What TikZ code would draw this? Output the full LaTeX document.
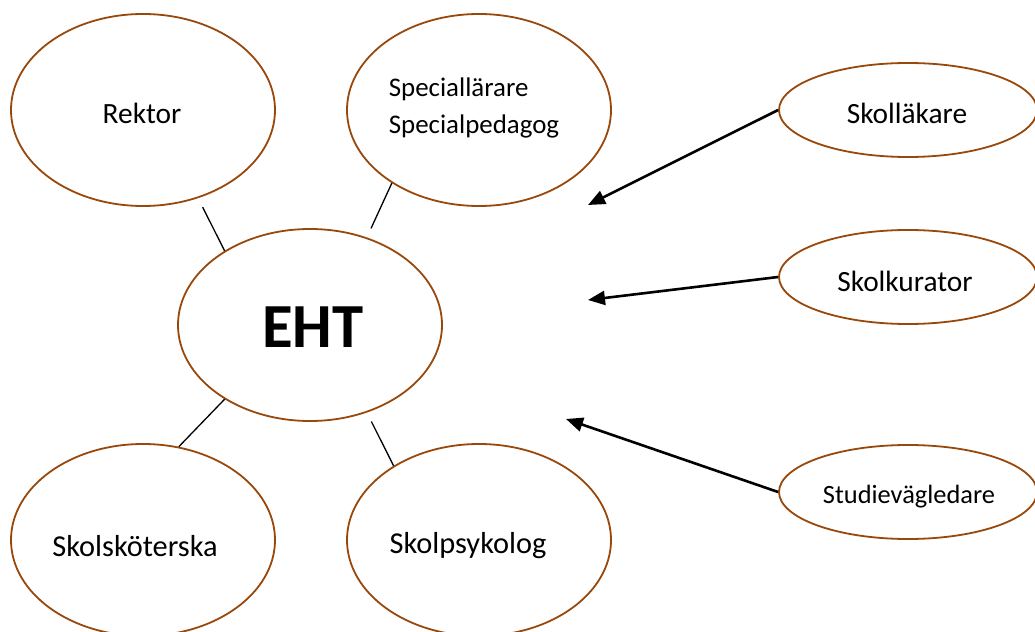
\documentclass[tikz,border=0pt]{standalone}
\usepackage{fontspec}
\setmainfont{Carlito}
\usetikzlibrary{shapes.geometric,arrows.meta}
\definecolor{brownline}{RGB}{152,72,10}
\begin{document}
\begin{tikzpicture}[x=1bp,y=-1bp,
  oval/.style={ellipse,draw=brownline,line width=1.8bp,inner sep=0pt,
     minimum width=264bp,minimum height=192bp},
  smalloval/.style={ellipse,draw=brownline,line width=1.8bp,inner sep=0pt,
     minimum width=258bp,minimum height=94bp},
  txt/.style={inner sep=0pt,font=\fontsize{29.5}{34}\selectfont},
  link/.style={line width=1.3bp,black},
  pointer/.style={line width=2.6bp,black,-{Triangle[length=17bp,width=14bp]}}]
\useasboundingbox (0,0) rectangle (1035,632);
\fill[white] (0,0) rectangle (1035,632);

\node[oval] (rektor) at (143,110) {};
\node[txt] (rektortext) at (142,113) {Rektor};
\node[oval] (spec) at (479,110) {};
\node[txt,align=left,font=\fontsize{27}{37}\selectfont] (spectext) at (474,108) {Speciallärare\\Specialpedagog};
\node[oval] (eht) at (310,325) {};
\node[txt,font=\fontsize{63}{70}\selectfont\bfseries] (ehttext) at (313,327) {EHT};
\node[oval] (skot) at (143,540) {};
\node[txt,font=\fontsize{30.5}{34}\selectfont] (skottext) at (135,546) {Skolsköterska};
\node[oval] (psyk) at (479,540) {};
\node[txt,font=\fontsize{30.5}{34}\selectfont] (psyktext) at (468,546) {Skolpsykolog};

\node[smalloval] (lakare) at (908,110) {};
\node[txt] (lakaretext) at (907,113) {Skolläkare};
\node[smalloval] (kurator) at (908,277) {};
\node[txt] (kuratortext) at (905,281) {Skolkurator};
\node[smalloval] (studie) at (908,492) {};
\node[txt,font=\fontsize{26.5}{30}\selectfont] (studietext) at (909,497) {Studievägledare};

\draw[link,shorten <=10bp] (rektor.-58) -- (eht.139);
\draw[link,shorten >=10bp] (spec.-140) -- (eht.57);
\draw[link] (eht.-139) -- (skot.69);
\draw[link,shorten <=10bp] (eht.-57) -- (psyk.139);

\coordinate (t1) at (588,205);
\coordinate (t2) at (588,300);
\coordinate (t3) at (566,419);
\draw[pointer] (lakare.west) -- (t1);
\draw[pointer] (kurator.west) -- (t2);
\draw[pointer] (studie.west) -- (t3);
\end{tikzpicture}
\end{document}
